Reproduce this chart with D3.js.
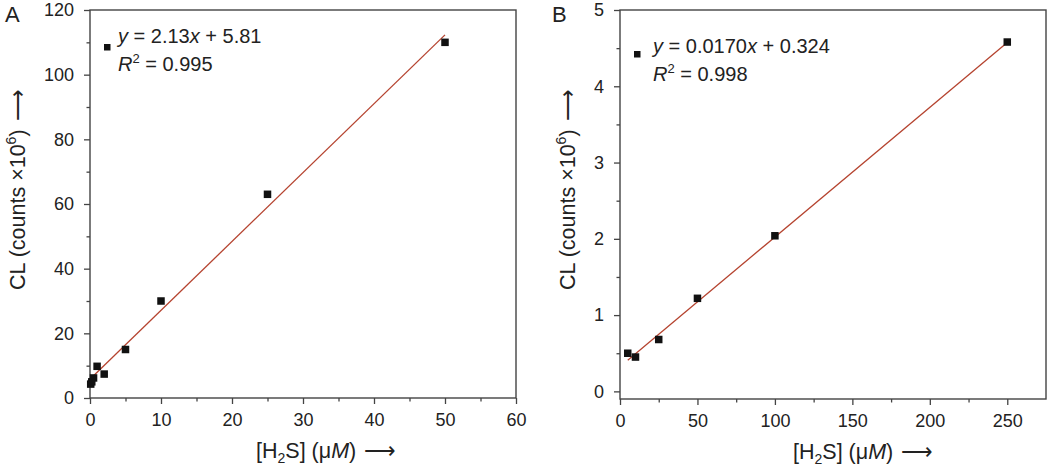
<!DOCTYPE html>
<html><head><meta charset="utf-8">
<script src="https://cdn.jsdelivr.net/npm/d3@7"></script>
<style>
body{margin:0;background:#fff}
text{font-family:"Liberation Sans",Arial,sans-serif;fill:#222}
</style>
</head><body>
<svg id="c" width="1050" height="470"></svg>
<script>
// ---- data ----
const concA = [0.1, 0.25, 0.5, 1, 2, 5, 10, 25, 50];
const clA   = [4.3, 5.0, 6.2, 9.8, 7.4, 15, 30, 63, 110];
const fitA  = [2.13, 5.81];          // slope, intercept
const fitRangeA = [0.1, 50];
const eqA   = ["2.13", "5.81", "0.995"];
const xTicksA = [0, 10, 20, 30, 40, 50, 60];
const yTicksA = [0, 20, 40, 60, 80, 100, 120];

const concB = [5, 10, 25, 50, 100, 250];
const clB   = [0.50, 0.45, 0.68, 1.22, 2.04, 4.58];
const fitB  = [0.0170, 0.324];
const fitRangeB = [5, 250];
const eqB   = ["0.0170", "0.324", "0.998"];
const xTicksB = [0, 50, 100, 150, 200, 250];
const yTicksB = [0, 1, 2, 3, 4, 5];

const svg = d3.select("#c");
const axisCol = "#444", lineCol = "#b5432f";

function panel(o){
  const x = d3.scaleLinear().domain(o.xd).range([o.l, o.r]);
  const y = d3.scaleLinear().domain(o.yd).range([o.b, o.t]);
  const g = svg.append("g");
  g.append("rect").attr("x",o.l).attr("y",o.t).attr("width",o.r-o.l).attr("height",o.b-o.t)
    .attr("fill","none").attr("stroke",axisCol).attr("stroke-width",1.4);
  const xa = g.append("g").attr("transform",`translate(0,${o.b})`)
    .call(d3.axisBottom(x).tickValues(o.xt).tickSize(6).tickPadding(9).tickFormat(d3.format("d")));
  const ya = g.append("g").attr("transform",`translate(${o.l},0)`)
    .call(d3.axisLeft(y).tickValues(o.yt).tickSize(6).tickPadding(10).tickFormat(d3.format("d")));
  const xm = g.append("g").attr("transform",`translate(0,${o.b})`)
    .call(d3.axisBottom(x).tickValues(o.xm).tickSize(3.5).tickFormat(""));
  const ym = g.append("g").attr("transform",`translate(${o.l},0)`)
    .call(d3.axisLeft(y).tickValues(o.ym).tickSize(3.5).tickFormat(""));
  [xa,ya,xm,ym].forEach(a=>{
    a.select(".domain").remove();
    a.selectAll("line").attr("stroke",axisCol).attr("stroke-width",1.3);
    a.selectAll("text").attr("font-size",18).attr("fill","#222")
      .style("font-family",'"Liberation Sans",Arial,sans-serif');
  });
  g.append("line")
    .attr("x1",x(o.fr[0])).attr("y1",y(o.fit[0]*o.fr[0]+o.fit[1]))
    .attr("x2",x(o.fr[1])).attr("y2",y(o.fit[0]*o.fr[1]+o.fit[1]))
    .attr("stroke",lineCol).attr("stroke-width",1.3);
  const s = 7.5;
  g.selectAll("rect.pt").data(o.xs.map((v,i)=>[v,o.ys[i]])).enter().append("rect")
    .attr("class","pt").attr("x",d=>x(d[0])-s/2).attr("y",d=>y(d[1])-s/2)
    .attr("width",s).attr("height",s).attr("fill","#111");
  // legend
  g.append("rect").attr("x",o.lg[0]-3).attr("y",o.lg[1]-3).attr("width",6.5).attr("height",6.5).attr("fill","#111");
  const t1 = g.append("text").attr("x",o.lg[2]).attr("y",o.lg[3]).attr("font-size",20);
  t1.append("tspan").attr("font-style","italic").text("y");
  t1.append("tspan").text(` = ${o.eq[0]}`);
  t1.append("tspan").attr("font-style","italic").text("x");
  t1.append("tspan").text(` + ${o.eq[1]}`);
  const t2 = g.append("text").attr("x",o.lg[2]).attr("y",o.lg[3]+28).attr("font-size",20);
  t2.append("tspan").attr("font-style","italic").text("R");
  t2.append("tspan").attr("font-size",13).attr("dy",-8).text("2");
  t2.append("tspan").attr("dy",8).text(` = ${o.eq[2]}`);
  // panel letter
  g.append("text").attr("x",o.pl[0]).attr("y",o.pl[1]).attr("font-size",22).text(o.name);
  // x title
  const xt = g.append("text").attr("x",o.xtp[0]).attr("y",o.xtp[1]).attr("font-size",21.5);
  xt.append("tspan").text("[H");
  xt.append("tspan").attr("font-size",14).attr("dy",5).text("2");
  xt.append("tspan").attr("dy",-5).text("S] (\u03BC");
  xt.append("tspan").attr("font-style","italic").text("M");
  xt.append("tspan").text(")");
  xt.append("tspan").attr("dx",8).text("\u27F6");
  // y title
  const yt = g.append("text").attr("transform",`translate(${o.ytp[0]},${o.ytp[1]}) rotate(-90)`)
    .attr("font-size",21.5);
  yt.append("tspan").text("CL (counts \u00D710");
  yt.append("tspan").attr("font-size",14).attr("dy",-9).text("6");
  yt.append("tspan").attr("dy",9).text(")");
  yt.append("tspan").attr("dx",8).text("\u27F6");
}

panel({name:"A", l:90, r:516, t:10, b:398, xd:[0,60], yd:[0,120],
  xt:xTicksA, yt:yTicksA, xm:[5,15,25,35,45,55], ym:[10,30,50,70,90,110],
  xs:concA, ys:clA, fit:fitA, fr:fitRangeA, eq:eqA,
  lg:[107,47,118,43], pl:[5,22], xtp:[256,458], ytp:[25,290]});

panel({name:"B", l:620, r:1046, t:10, b:399, xd:[0,275], yd:[-0.1,5],
  xt:xTicksB, yt:yTicksB, xm:[25,75,125,175,225], ym:[0.5,1.5,2.5,3.5,4.5],
  xs:concB, ys:clB, fit:fitB, fr:fitRangeB, eq:eqB,
  lg:[637,54,653,53], pl:[552,22], xtp:[793,459], ytp:[575,290]});
</script>
</body></html>
